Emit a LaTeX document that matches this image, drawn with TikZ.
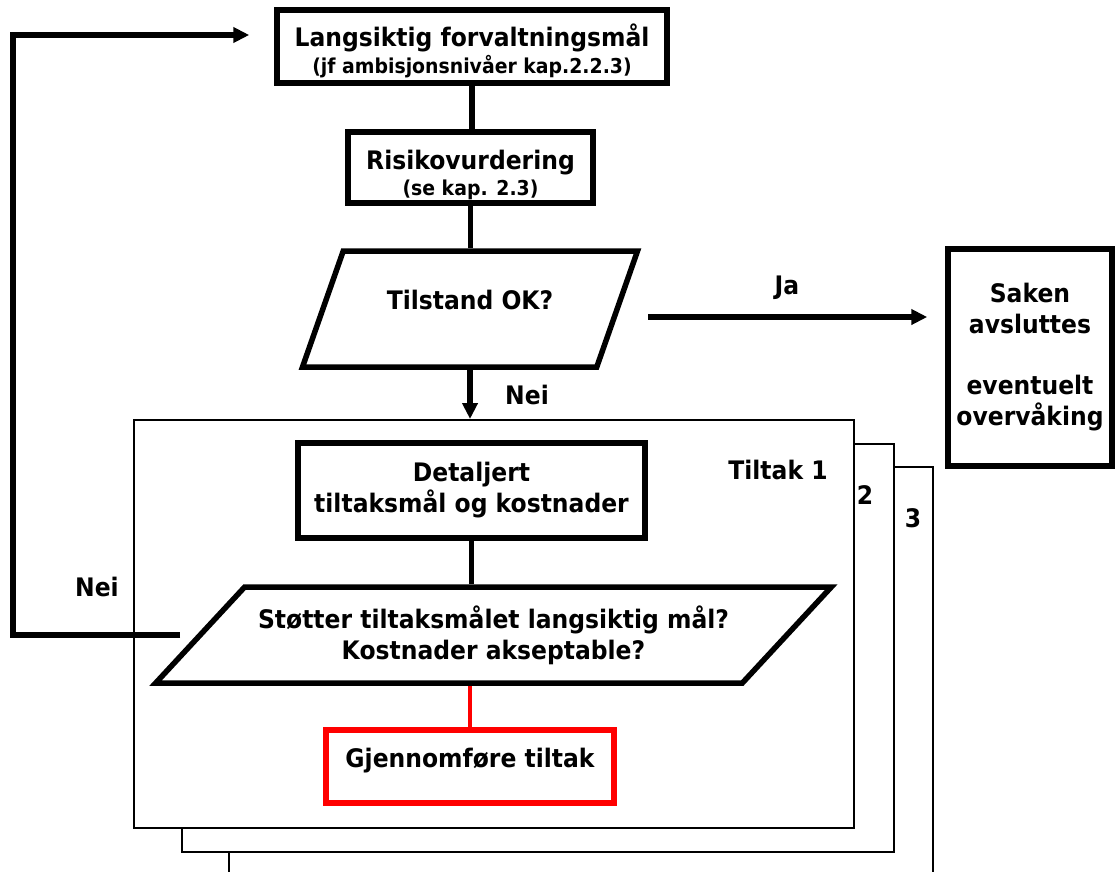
\documentclass[tikz,border=0pt]{standalone}
\usepackage{fontspec}
\setmainfont{DejaVu Sans}[FakeStretch=0.92]
\usepackage{tikz}
\usetikzlibrary{shapes.geometric}
\usetikzlibrary{positioning}
\usetikzlibrary{arrows.meta}
\usepackage{xcolor}
\definecolor{tiltakred}{RGB}{255,0,0}
\newcommand{\boxfont}{\fontsize{25.5}{31}\selectfont\bfseries}
\newcommand{\notefont}{\fontsize{20.5}{24}\selectfont\bfseries}
\tikzset{
    flow_box/.style={draw=black, line width=5.5pt, align=center, inner sep=0pt, font=\boxfont},
    flow_check/.style={flow_box, trapezium, trapezium stretches=true},
    flow_done/.style={flow_box, draw=tiltakred},
    frame_box/.style={draw=black, line width=1.8pt, fill=white, inner sep=0pt, anchor=north west},
    flow_line/.style={line width=5.5pt},
    flow_arrow/.style={flow_line, -{Triangle[length=16pt, width=15pt]}},
    flow_label/.style={font=\boxfont, inner sep=0pt}
}

\begin{document}
\begin{tikzpicture}[x=1pt, y=-1pt]
    \useasboundingbox (0,0) rectangle (1116,872);

    \fill[white] (229,467) rectangle (933,872);
    \draw[line width=1.8pt] (229,872) -- (229,467) -- (933,467) -- (933,872);
    \node[frame_box, minimum width=712pt, minimum height=408pt](frame2) at (181,443){};
    \node[frame_box, minimum width=720pt, minimum height=408pt](frame1) at (133,419){};

    \node[flow_label](tiltak1) at (778,470){Tiltak 1};
    \node[flow_label](tiltak2) at (865,495){2};
    \node[flow_label](tiltak3) at (913,518){3};

    \node[flow_box, minimum width=390pt, minimum height=73pt](lang) at (472,46.5)
        {\rule{0pt}{32pt}Langsiktig forvaltningsmål\\[-4pt]{\notefont (jf ambisjonsnivåer kap.2.2.3)}};
    \node[flow_box, minimum width=245pt, minimum height=71pt](risk) at (470.5,167.5)
        {\rule{0pt}{34pt}Risikovurdering\\[-5pt]{\notefont (se kap. 2.3)}};
    \node[flow_check, trapezium left angle=54.4, trapezium right angle=125.6,
        minimum width=336pt, minimum height=116pt, text depth=18pt](tilstand) at (470,309)
        {Tilstand OK?};
    \node[flow_box, minimum width=164pt, minimum height=217pt](saken) at (1030,357.5)
        {Saken\\avsluttes\\[30pt]eventuelt\\overvåking};

    \node[flow_box, minimum width=347pt, minimum height=95pt](detail) at (471.5,490.5)
        {Detaljert\\tiltaksmål og kostnader};
    \node[flow_check, trapezium left angle=35, trapezium right angle=145,
        minimum width=679pt, minimum height=96pt](accept) at (493.5,635)
        {Støtter tiltaksmålet langsiktig mål?\\Kostnader akseptable?};
    \node[flow_done, minimum width=288pt, minimum height=73pt, text depth=18pt](done) at (470,766.5)
        {Gjennomføre tiltak};

    \coordinate (ja_start) at (648,317);
    \coordinate (nei_start) at (180,635);
    \coordinate (loop_top) at (13,35);

    \draw[flow_line] (lang.south) -- (lang.south |- risk.north);
    \draw[flow_line] (risk.south) -- (risk.south |- tilstand.north);
    \draw[flow_arrow] (tilstand.south) -- (tilstand.south |- frame1.north);
    \draw[flow_arrow, shorten >=18pt] (ja_start) -- (ja_start -| saken.west);
    \draw[flow_line] (detail.south) -- (detail.south |- accept.north);
    \draw[line width=4.5pt, draw=tiltakred] (accept.south -| done.north) -- (done.north);
    \draw[flow_arrow, shorten >=25pt] (nei_start) -- (nei_start -| loop_top) -- (loop_top) -- (loop_top -| lang.west);

    \node[flow_label](ja) at (787,288){Ja};
    \node[flow_label](nei_down) at (527,395){Nei};
    \node[flow_label](nei_back) at (97,587){Nei};
\end{tikzpicture}
\end{document}
